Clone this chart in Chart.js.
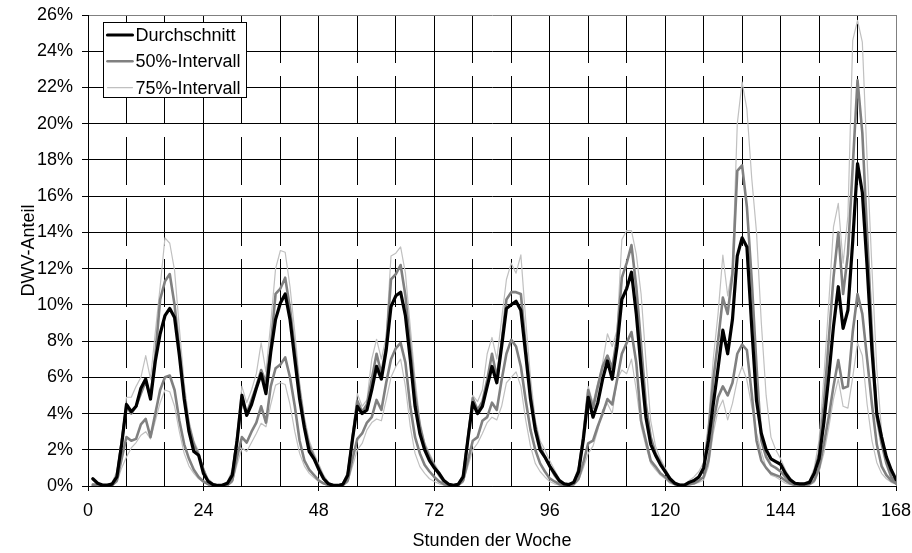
<!DOCTYPE html>
<html>
<head>
<meta charset="utf-8">
<script src="https://cdn.jsdelivr.net/npm/chart.js@4.4.1/dist/chart.umd.min.js"></script>
<style>
  html, body { margin: 0; padding: 0; background: #fff; }
  #wrap { width: 912px; height: 553px; }
</style>
</head>
<body>
<div id="wrap"><canvas id="c" width="912" height="553"></canvas></div>
<script>
// Stunden der Woche (1 ... 168)
const stunden = Array.from({ length: 168 }, (_, i) => i + 1);

// Beschriftete Stunden auf der x-Achse
const xTickLabels = [0, 24, 48, 72, 96, 120, 144, 168];

// DWV-Anteil in %, je Zeile ein Tag (Stunde 1 ... 24)
const durchschnitt = [
  0.4,0.15,0.05,0.05,0.1,0.5,2.3,4.5,4.1,4.4,5.4,5.9,4.8,6.9,8.4,9.4,9.8,9.3,7.2,4.8,3.0,1.9,1.7,0.7,
  0.25,0.08,0.03,0.05,0.15,0.6,2.5,5.0,3.9,4.5,5.4,6.2,5.1,7.4,9.2,10.1,10.6,9.2,7.0,4.8,3.2,1.9,1.5,0.9,
  0.4,0.12,0.04,0.03,0.1,0.6,2.6,4.4,4.0,4.2,5.3,6.6,5.9,7.5,9.9,10.5,10.7,9.4,7.0,4.4,2.9,2.0,1.4,1.0,
  0.7,0.3,0.1,0.04,0.1,0.5,2.6,4.6,4.0,4.4,5.5,6.6,5.7,7.7,9.8,10.0,10.2,9.7,7.3,4.8,3.1,2.0,1.6,1.1,
  0.7,0.3,0.12,0.08,0.2,0.8,2.6,4.9,3.8,4.6,5.9,6.9,5.9,7.7,10.3,10.9,11.8,9.5,6.5,3.8,2.3,1.7,1.2,0.8,
  0.4,0.15,0.05,0.05,0.2,0.3,0.5,1.0,2.5,4.5,6.5,8.6,7.3,9.2,12.7,13.7,13.2,8.8,4.7,2.9,2.0,1.5,1.35,1.2,
  0.7,0.35,0.15,0.12,0.12,0.2,0.7,1.5,3.5,6.0,8.8,11.0,8.7,9.7,13.5,17.8,16.2,12.1,7.5,4.0,2.7,1.6,0.9,0.35
];

const intervall50Oben = [
  0.08,0.05,0.03,0.03,0.1,0.5,2.4,4.4,4.0,4.4,5.1,5.8,4.9,7.2,10.3,11.3,11.7,10.0,7.5,5.0,3.3,2.3,1.7,0.9,
  0.2,0.08,0.03,0.05,0.15,0.6,2.6,4.75,4.0,4.75,5.5,6.4,5.7,7.7,10.6,10.9,11.5,9.8,7.5,5.2,3.4,2.2,1.6,1.0,
  0.4,0.12,0.04,0.03,0.1,0.6,2.6,4.7,4.1,4.5,5.9,7.3,6.2,7.7,11.4,11.7,12.2,10.5,7.7,5.1,3.3,2.2,1.6,1.1,
  0.6,0.25,0.08,0.04,0.1,0.5,2.6,4.85,4.2,4.65,5.85,7.3,6.0,7.9,10.3,10.7,10.7,10.6,7.7,5.1,3.3,2.2,1.6,1.1,
  0.6,0.25,0.1,0.07,0.2,0.8,2.7,5.3,4.3,5.5,6.6,7.2,6.5,8.2,11.5,12.3,13.3,11.0,7.8,4.5,2.7,1.8,1.3,0.8,
  0.4,0.15,0.05,0.05,0.2,0.3,0.5,0.9,2.9,5.85,8.0,10.4,9.5,11.7,17.4,17.7,15.4,11.4,6.6,2.5,1.6,1.15,1.0,0.8,
  0.5,0.25,0.12,0.1,0.1,0.2,0.7,1.8,4.5,8.0,11.5,14.0,10.6,12.8,17.6,22.4,19.5,13.9,8.4,3.8,2.35,1.25,0.5,0.15
];

const intervall50Unten = [
  0.03,0.02,0.01,0.01,0.03,0.3,1.5,2.7,2.5,2.6,3.4,3.7,2.7,4.0,5.3,6.0,6.1,5.3,3.6,2.3,1.5,0.9,0.5,0.25,
  0.1,0.03,0.01,0.01,0.05,0.3,1.6,2.7,2.4,3.0,3.5,4.4,3.5,5.5,6.5,6.7,7.1,6.0,4.4,2.5,1.4,0.9,0.6,0.3,
  0.15,0.05,0.02,0.01,0.05,0.3,1.5,2.6,2.9,3.5,3.8,4.75,4.2,5.7,7.0,7.6,7.9,6.8,4.4,2.7,1.8,1.16,0.8,0.5,
  0.25,0.1,0.03,0.02,0.05,0.3,1.4,2.5,2.7,3.6,3.8,4.6,4.2,5.85,7.3,8.07,7.7,6.6,4.75,3.1,2.0,1.25,0.8,0.42,
  0.25,0.1,0.05,0.03,0.1,0.4,1.3,2.35,2.5,3.3,4.0,4.8,4.5,5.85,7.3,7.9,8.5,6.8,3.6,2.5,1.4,1.07,0.7,0.5,
  0.25,0.1,0.03,0.03,0.1,0.15,0.3,0.5,1.4,3.5,4.9,5.5,5.0,5.7,7.3,7.8,7.5,5.1,2.5,1.4,1.0,0.7,0.6,0.5,
  0.3,0.15,0.05,0.04,0.05,0.1,0.3,1.0,2.3,3.8,5.5,6.95,5.4,5.5,8.5,10.6,9.5,7.0,4.5,2.3,1.1,0.6,0.3,0.15
];

const intervall75Oben = [
  0.12,0.08,0.05,0.05,0.2,0.8,2.7,4.9,4.9,5.5,6.0,7.2,5.9,8.5,11.0,13.7,13.4,11.9,8.7,5.7,3.6,2.5,1.9,1.0,
  0.4,0.15,0.05,0.08,0.25,0.9,3.0,5.5,4.6,5.3,6.2,7.9,6.3,9.0,12.0,13.0,12.9,11.0,8.5,5.7,3.8,2.5,1.8,1.2,
  0.6,0.2,0.06,0.05,0.15,0.8,3.0,5.1,4.4,4.75,7.0,8.1,7.0,8.25,12.7,12.85,13.2,11.75,8.8,5.9,3.6,2.4,1.8,1.25,
  0.8,0.35,0.12,0.06,0.15,0.7,3.0,5.0,4.66,5.3,7.3,8.2,7.0,9.2,11.4,12.3,11.75,12.76,9.2,6.0,3.65,2.5,2.0,1.4,
  0.9,0.4,0.15,0.1,0.3,1.1,3.2,5.5,4.6,5.7,6.8,8.4,7.7,8.6,13.6,14.1,14.1,12.8,10.6,6.95,3.6,2.2,1.5,1.0,
  0.5,0.2,0.08,0.08,0.3,0.5,0.8,1.3,3.5,7.0,9.5,12.75,10.5,12.0,20.0,22.3,20.8,17.0,14.0,9.0,5.0,2.7,2.0,1.5,
  0.9,0.45,0.2,0.15,0.15,0.3,1.0,2.5,6.0,10.0,14.3,15.6,12.3,14.9,24.6,25.7,24.5,18.0,12.0,6.5,3.0,1.6,0.7,0.33
];

const intervall75Unten = [
  0.01,0.01,0.0,0.0,0.02,0.2,1.0,1.6,2.1,2.4,2.8,3.0,2.6,3.6,4.6,5.3,5.2,4.4,3.0,1.8,1.1,0.7,0.4,0.2,
  0.05,0.02,0.0,0.0,0.03,0.2,1.2,2.1,1.9,2.4,2.9,3.46,3.27,4.5,5.57,5.7,5.6,4.5,3.0,1.8,1.1,0.7,0.45,0.25,
  0.1,0.03,0.01,0.0,0.03,0.2,1.1,2.0,2.35,3.1,3.5,3.7,3.6,4.75,6.0,6.6,7.0,5.5,3.3,1.8,1.07,0.7,0.4,0.25,
  0.12,0.05,0.02,0.0,0.03,0.2,1.1,2.0,2.36,2.9,3.5,3.8,3.65,4.4,5.7,6.0,6.3,5.5,3.65,2.2,1.25,0.8,0.5,0.25,
  0.12,0.05,0.02,0.01,0.05,0.3,1.0,1.8,2.2,3.1,4.2,4.56,4.0,5.85,6.4,6.2,7.0,5.3,3.3,2.2,1.25,0.9,0.6,0.4,
  0.15,0.06,0.02,0.02,0.05,0.1,0.2,0.33,1.07,2.9,4.2,4.75,3.65,4.56,5.85,6.6,5.85,4.4,2.9,1.9,1.0,0.6,0.5,0.33,
  0.15,0.08,0.03,0.02,0.03,0.05,0.2,0.8,1.8,3.2,4.8,5.9,4.4,4.3,6.0,7.9,7.2,4.5,2.5,1.3,0.7,0.4,0.2,0.1
];

const FONT = "'Liberation Sans', Arial, sans-serif";
Chart.defaults.font.family = FONT;
Chart.defaults.font.size = 18;
Chart.defaults.color = '#000';

function serie(label, values, color, width, inLegend) {
  return {
    label,
    data: values.map((v, i) => ({ x: stunden[i], y: v })),
    borderColor: color,
    backgroundColor: color,
    borderWidth: width,
    pointRadius: 0,
    pointHoverRadius: 0,
    tension: 0,
    fill: false,
    borderJoinStyle: 'round',
    borderCapStyle: 'round',
    inLegend
  };
}

// Legende als Kasten oben links in der Zeichenfläche
const legendBox = {
  id: 'legendBox',
  afterDraw(chart) {
    const { ctx, chartArea } = chart;
    const x = chartArea.left + 15.5, y = chartArea.top + 7.5, w = 143, h = 75;
    ctx.save();
    ctx.fillStyle = '#fff';
    ctx.fillRect(x, y, w, h);
    ctx.strokeStyle = '#000';
    ctx.lineWidth = 1;
    ctx.strokeRect(x, y, w, h);
    ctx.font = '18px ' + FONT;
    ctx.textBaseline = 'middle';
    ctx.textAlign = 'left';
    const entries = chart.data.datasets.filter(d => d.inLegend);
    entries.forEach((d, i) => {
      const ry = y + 12.5 + i * 26.3;
      ctx.strokeStyle = d.borderColor;
      ctx.lineWidth = d.borderWidth;
      ctx.lineCap = 'round';
      ctx.beginPath();
      ctx.moveTo(x + 4, ry);
      ctx.lineTo(x + 29, ry);
      ctx.stroke();
      ctx.fillStyle = '#000';
      ctx.fillText(d.label, x + 32, ry + 1);
    });
    ctx.restore();
  }
};

new Chart(document.getElementById('c'), {
  type: 'line',
  data: {
    datasets: [
      serie('Durchschnitt', durchschnitt, '#000000', 3.2, true),
      serie('50%-Intervall', intervall50Oben, '#808080', 2.6, true),
      serie('50%-Intervall', intervall50Unten, '#808080', 2.6, false),
      serie('75%-Intervall', intervall75Oben, '#c0c0c0', 1.2, true),
      serie('75%-Intervall', intervall75Unten, '#c0c0c0', 1.2, false)
    ]
  },
  options: {
    responsive: false,
    animation: false,
    devicePixelRatio: 1,
    layout: { padding: { left: 0, right: 16, top: 15, bottom: 0 } },
    plugins: { legend: { display: false }, tooltip: { enabled: false } },
    events: [],
    scales: {
      x: {
        type: 'linear',
        min: 0,
        max: 168,
        afterFit: s => { s.height = 67; s.paddingLeft = 0; s.paddingRight = 0; },
        ticks: {
          stepSize: 8,
          autoSkip: false,
          maxRotation: 0,
          padding: 9,
          callback: v => xTickLabels.includes(v) ? String(v) : ''
        },
        grid: {
          color: c => (c.tick && c.tick.value === 168) ? '#808080' : '#000',
          lineWidth: 1,
          tickLength: 5,
          tickColor: c => (c.tick && c.tick.value % 24 === 0) ? '#000' : 'rgba(0,0,0,0)'
        },
        border: {
          color: '#000',
          width: 1,
          dash: c => (c.tick && c.tick.value % 24 !== 0) ? [48, 13] : []
        },
        title: { display: true, text: 'Stunden der Woche', padding: { top: 0, bottom: 1 } }
      },
      y: {
        min: 0,
        max: 26,
        afterFit: s => { s.width = 88; s.paddingTop = 0; s.paddingBottom = 0; },
        ticks: { stepSize: 2, padding: 9, callback: v => v + '%' },
        grid: {
          color: c => (c.tick && c.tick.value === 26) ? '#808080' : '#000',
          lineWidth: 1,
          tickLength: 6,
          tickColor: '#000'
        },
        border: { color: '#000', width: 1 },
        title: { display: true, text: 'DWV-Anteil', padding: { top: 18, bottom: 0 } }
      }
    }
  },
  plugins: [legendBox]
});
</script>
</body>
</html>
